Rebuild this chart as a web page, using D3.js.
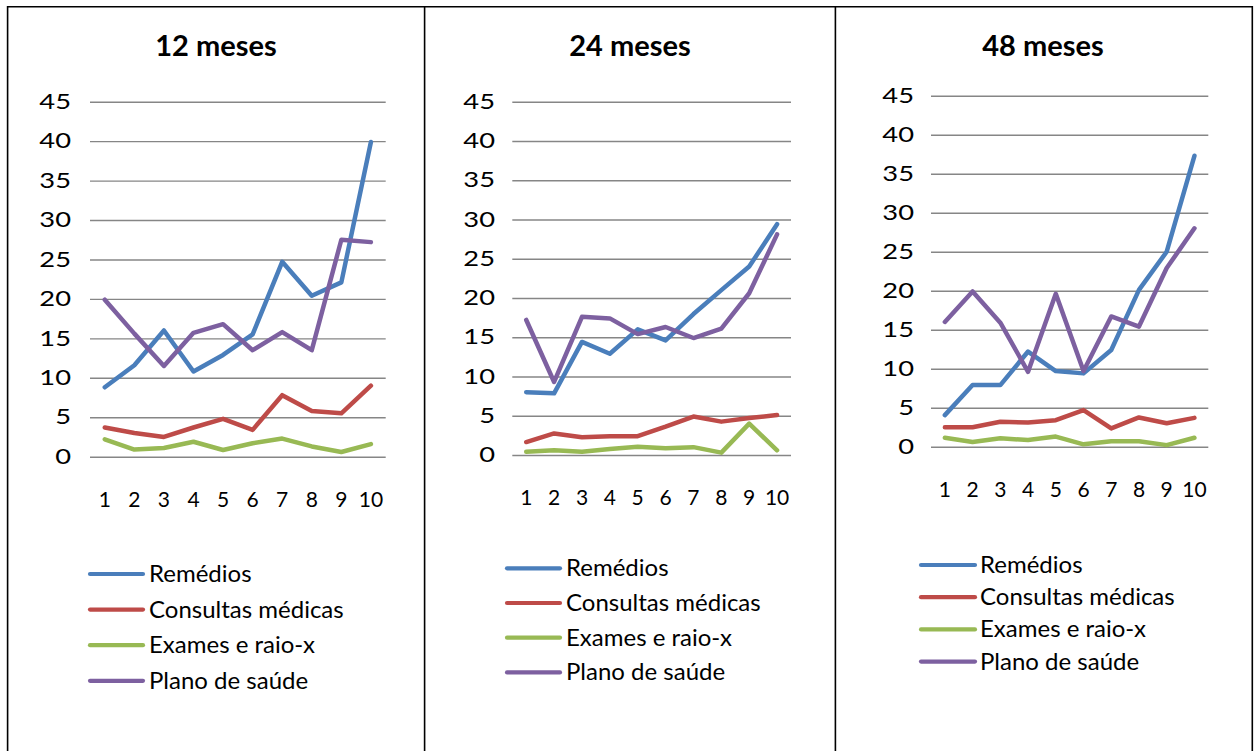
<!DOCTYPE html>
<html>
<head>
<meta charset="utf-8">
<script src="https://cdn.jsdelivr.net/npm/d3@7"></script>
<style>
  html, body { margin: 0; padding: 0; background: #fff; }
  svg { display: block; }
  text { font-family: Lato, "Open Sans", sans-serif; fill: #000; }
</style>
</head>
<body>
<svg id="chart" width="1254" height="751"></svg>
<script>
// ---- data ----
const categories = ["1", "2", "3", "4", "5", "6", "7", "8", "9", "10"];
const seriesNames = ["Remédios", "Consultas médicas", "Exames e raio-x", "Plano de saúde"];
const panelTitles = ["12 meses", "24 meses", "48 meses"];
const yTicks = [0, 5, 10, 15, 20, 25, 30, 35, 40, 45];

const remedios12  = [8.8, 11.6, 16.0, 10.8, 12.9, 15.5, 24.7, 20.4, 22.1, 39.9];
const consultas12 = [3.7, 3.0, 2.5, 3.7, 4.8, 3.4, 7.8, 5.8, 5.5, 9.0];
const exames12    = [2.2, 0.9, 1.1, 1.9, 0.85, 1.7, 2.3, 1.3, 0.6, 1.6];
const plano12     = [19.9, 15.6, 11.5, 15.7, 16.8, 13.5, 15.8, 13.5, 27.5, 27.2];

const remedios24  = [8.0, 7.85, 14.4, 12.9, 16.0, 14.6, 17.95, 21.0, 24.0, 29.4];
const consultas24 = [1.65, 2.75, 2.25, 2.4, 2.4, 3.6, 4.9, 4.25, 4.7, 5.1];
const exames24    = [0.4, 0.6, 0.4, 0.75, 1.05, 0.85, 1.0, 0.3, 4.0, 0.6];
const plano24     = [17.2, 9.3, 17.6, 17.4, 15.4, 16.3, 14.9, 16.1, 20.6, 28.1];

const remedios48  = [4.05, 7.9, 7.9, 12.2, 9.7, 9.4, 12.4, 20.1, 25.0, 37.3];
const consultas48 = [2.5, 2.5, 3.2, 3.1, 3.4, 4.7, 2.35, 3.75, 3.0, 3.7];
const exames48    = [1.15, 0.6, 1.07, 0.85, 1.3, 0.3, 0.7, 0.7, 0.2, 1.15];
const plano48     = [16.0, 19.9, 15.9, 9.6, 19.6, 9.7, 16.7, 15.4, 22.9, 28.0];

const panelSeries = [
  [remedios12, consultas12, exames12, plano12],
  [remedios24, consultas24, exames24, plano24],
  [remedios48, consultas48, exames48, plano48]
];

// ---- style ----
const colors = ["#4A7EBB", "#BE4B48", "#98B954", "#7D60A0"];

// plot-area geometry for each table cell
const layout = [
  { left: 90,  right: 385.7, top: 101.7, bottom: 456.7, labelRight: 71, titleX: 216, titleY: 56, xLabelY: 507,
    legX1: 90, legX2: 143, legTextX: 149, legY0: 574, legStep: 35.6 },
  { left: 512.3, right: 791, top: 101.7, bottom: 455, labelRight: 495, titleX: 630, titleY: 56, xLabelY: 505,
    legX1: 507, legX2: 560, legTextX: 566, legY0: 568.3, legStep: 34.7 },
  { left: 931, right: 1208.3, top: 95.7, bottom: 446.7, labelRight: 914, titleX: 1043, titleY: 56, xLabelY: 497,
    legX1: 921, legX2: 975, legTextX: 980, legY0: 565, legStep: 32.2 }
];

const svg = d3.select("#chart");

// table borders
const border = svg.append("g").attr("stroke", "#000").attr("stroke-width", 1.6).attr("fill", "none");
border.append("line").attr("x1", 7).attr("x2", 1253).attr("y1", 6.8).attr("y2", 6.8);
[7.6, 424.6, 835.4, 1252.3].forEach(x => {
  border.append("line").attr("x1", x).attr("x2", x).attr("y1", 6).attr("y2", 751);
});

panelSeries.forEach((series, p) => {
  const L = layout[p];
  const g = svg.append("g");

  const x = d3.scaleBand().domain(categories).range([L.left, L.right]).padding(0);
  const y = d3.scaleLinear().domain([0, 45]).range([L.bottom, L.top]);
  const cx = c => x(c) + x.bandwidth() / 2;

  // title
  g.append("text")
    .attr("x", L.titleX).attr("y", L.titleY)
    .attr("text-anchor", "middle")
    .style("font-size", "29px").style("font-weight", "bold")
    .text(panelTitles[p]);

  // gridlines
  const grid = g.append("g")
    .attr("transform", `translate(${L.left},0)`)
    .call(d3.axisLeft(y).tickValues(yTicks).tickSize(-(L.right - L.left)).tickFormat(""));
  grid.select(".domain").remove();
  grid.selectAll(".tick line").attr("stroke", "#868686").attr("stroke-width", 1.4);

  // y-axis labels (wide digits)
  const yAxis = g.append("g")
    .attr("transform", `translate(${L.labelRight},0)`)
    .call(d3.axisLeft(y).tickValues(yTicks).tickSize(0).tickPadding(0));
  yAxis.select(".domain").remove();
  yAxis.selectAll("text")
    .attr("x", 0)
    .attr("transform", "scale(1.3,1)")
    .style("font-size", "21px").style("font-family", "Lato, sans-serif").attr("fill", "#000");

  // x-axis labels
  const xAxis = g.append("g")
    .attr("transform", `translate(0,${L.xLabelY})`)
    .call(d3.axisBottom(x).tickSize(0).tickPadding(0));
  xAxis.select(".domain").remove();
  xAxis.selectAll("text").attr("dy", 0).attr("y", 0)
    .style("font-size", "21px").style("font-family", "Lato, sans-serif").attr("fill", "#000");

  // series lines
  const line = d3.line().x((d, i) => cx(categories[i])).y(d => y(d));
  series.forEach((vals, s) => {
    g.append("path")
      .datum(vals)
      .attr("d", line)
      .attr("fill", "none")
      .attr("stroke", colors[s])
      .attr("stroke-width", 4.5)
      .attr("stroke-linejoin", "round")
      .attr("stroke-linecap", "round");
  });

  // legend
  seriesNames.forEach((name, s) => {
    const ly = L.legY0 + s * L.legStep;
    g.append("line")
      .attr("x1", L.legX1).attr("x2", L.legX2).attr("y1", ly).attr("y2", ly)
      .attr("stroke", colors[s]).attr("stroke-width", 4.2).attr("stroke-linecap", "round");
    g.append("text")
      .attr("x", L.legTextX).attr("y", ly + 8)
      .style("font-size", "24px")
      .text(name);
  });
});
</script>
</body>
</html>
